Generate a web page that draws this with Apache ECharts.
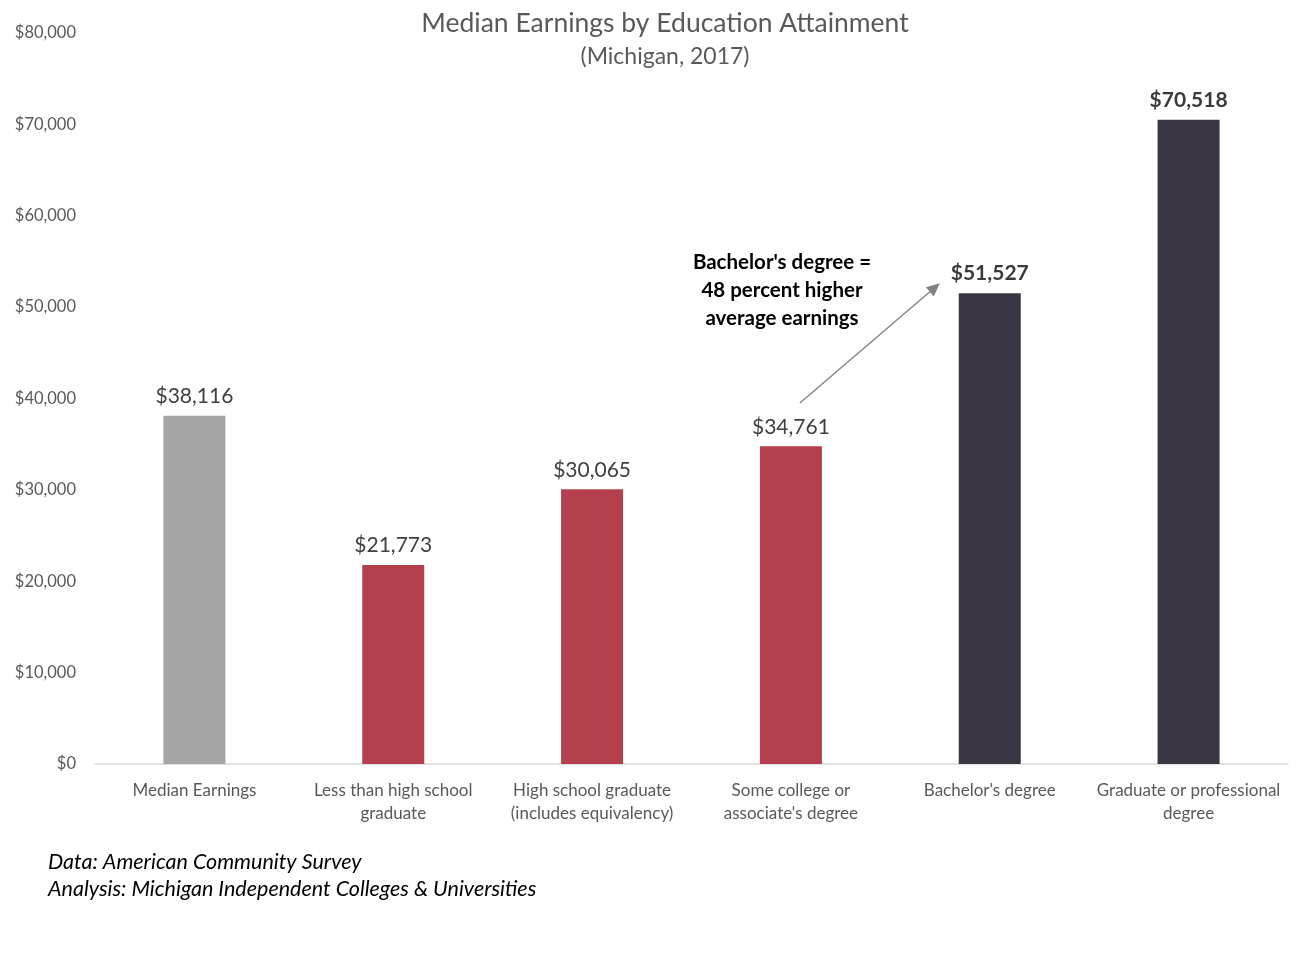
<!DOCTYPE html>
<html>
<head>
<meta charset="utf-8">
<script src="https://cdn.jsdelivr.net/npm/echarts@6/dist/echarts.min.js"></script>
<style>
  html, body { margin: 0; padding: 0; background: #fff; }
  #chart { width: 1310px; height: 954px; }
</style>
</head>
<body>
<div id="chart"></div>
<script>
var categories = [
    'Median Earnings',
    'Less than high school\ngraduate',
    'High school graduate\n(includes equivalency)',
    'Some college or\nassociate\'s degree',
    'Bachelor\'s degree',
    'Graduate or professional\ndegree'
];
var earnings = [38116, 21773, 30065, 34761, 51527, 70518];
var yTicks = [0, 10000, 20000, 30000, 40000, 50000, 60000, 70000, 80000];

var FONT = 'Lato, "Noto Sans", sans-serif';
var barColors = ['#a5a5a5', '#b5404d', '#b5404d', '#b5404d', '#3b3644', '#3b3644'];

function money(v) {
    return '$' + String(v).replace(/\B(?=(\d{3})+(?!\d))/g, ',');
}

var seriesData = earnings.map(function(v, i) {
    var bold = i >= 4;
    return {
        value: v,
        itemStyle: { color: barColors[i] },
        label: { fontWeight: bold ? 'bold' : 'normal', color: bold ? '#3a3a3a' : '#404040' }
    };
});

var myChart = echarts.init(document.getElementById('chart'));
var option = {
    backgroundColor: '#ffffff',
    animation: false,
    title: {
        text: 'Median Earnings by Education Attainment',
        subtext: '(Michigan, 2017)',
        left: 660,
        textAlign: 'center',
        top: 5,
        itemGap: 8,
        textStyle: { fontFamily: FONT, fontSize: 26.5, fontWeight: 'normal', color: '#595959' },
        subtextStyle: { fontFamily: FONT, fontSize: 23, color: '#595959' }
    },
    grid: { left: 95, right: 22, top: 33, bottom: 190, containLabel: false },
    xAxis: {
        type: 'category',
        data: categories,
        axisTick: { show: false },
        axisLine: { lineStyle: { color: '#d9d9d9', width: 1.5 } },
        axisLabel: {
            interval: 0,
            margin: 15,
            fontFamily: FONT,
            fontSize: 17,
            lineHeight: 23,
            color: '#595959'
        }
    },
    yAxis: {
        type: 'value',
        min: yTicks[0],
        max: yTicks[yTicks.length - 1],
        interval: yTicks[1] - yTicks[0],
        splitLine: { show: false },
        axisLine: { show: false },
        axisTick: { show: false },
        axisLabel: {
            margin: 19,
            fontFamily: FONT,
            fontSize: 16.5,
            color: '#595959',
            formatter: function(v) { return money(v); }
        }
    },
    series: [{
        type: 'bar',
        data: seriesData,
        barWidth: 62,
        label: {
            show: true,
            position: 'top',
            distance: 9,
            fontFamily: FONT,
            fontSize: 21,
            formatter: function(p) { return money(p.value); }
        }
    }]
};
myChart.setOption(option);

// annotation arrow, anchored to data space
var p0 = myChart.convertToPixel({ seriesIndex: 0 }, [3, 39500]);
var p1 = myChart.convertToPixel({ seriesIndex: 0 }, [4, 52600]);
var x0 = p0[0] + 9, y0 = p0[1];
var x1 = p1[0] - 50, y1 = p1[1];
var ang = Math.atan2(y1 - y0, x1 - x0);
var ah = 13, aw = 6;
var bx = x1 - ah * Math.cos(ang), by = y1 - ah * Math.sin(ang);
myChart.setOption({
    graphic: [
        {
            type: 'line',
            shape: { x1: x0, y1: y0, x2: bx, y2: by },
            style: { stroke: '#808080', lineWidth: 1.3 }
        },
        {
            type: 'polygon',
            shape: { points: [
                [x1, y1],
                [bx + aw * Math.sin(ang), by - aw * Math.cos(ang)],
                [bx - aw * Math.sin(ang), by + aw * Math.cos(ang)]
            ] },
            style: { fill: '#808080' }
        },
        {
            type: 'text',
            x: 782,
            y: 248,
            style: {
                text: 'Bachelor\'s degree =\n48 percent higher\naverage earnings',
                align: 'center',
                fontFamily: FONT,
                fontSize: 20.5,
                fontWeight: 'bold',
                lineHeight: 28,
                fill: '#000000'
            }
        },
        {
            type: 'text',
            left: 48,
            top: 849,
            style: {
                text: 'Data: American Community Survey\nAnalysis: Michigan Independent Colleges & Universities',
                fontFamily: FONT,
                fontSize: 21.5,
                fontStyle: 'italic',
                lineHeight: 27,
                fill: '#000000'
            }
        }
    ]
});
</script>
</body>
</html>
